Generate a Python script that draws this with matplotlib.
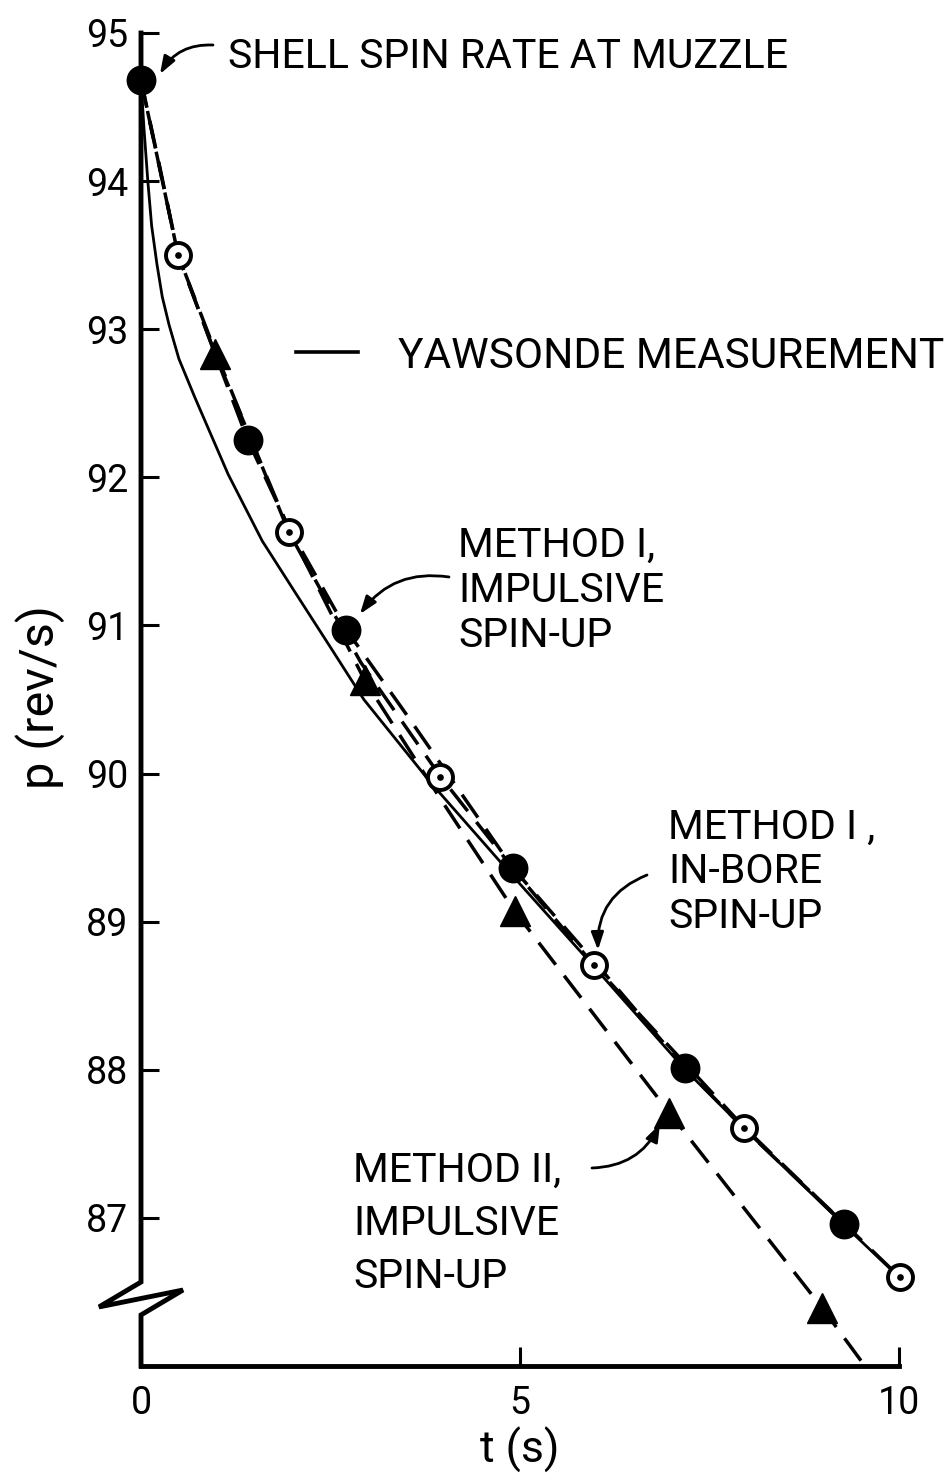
import matplotlib
matplotlib.use("Agg")
import matplotlib.pyplot as plt
from matplotlib.lines import Line2D

plt.rcParams['font.family'] = ['Roboto', 'DejaVu Sans']

# ---------------- data ----------------
# Yawsonde measurement (solid curve)
t_yaw = [0.0, 0.04, 0.09, 0.14, 0.21, 0.28, 0.37, 0.50, 0.71, 1.15, 1.60, 2.05,
         2.49, 2.94, 3.82, 4.85, 5.97, 7.18, 7.96, 9.28, 10.0]
p_yaw = [94.68, 94.35, 94.00, 93.70, 93.44, 93.22, 93.03, 92.80, 92.54, 92.02,
         91.57, 91.21, 90.86, 90.50, 89.94, 89.34, 88.70, 88.00, 87.60, 86.95, 86.60]

# Method I, impulsive spin-up (filled circles, dashed curve)
t_m1i = [0.0, 1.41, 2.71, 4.91, 7.18, 9.28]
p_m1i = [94.68, 92.25, 90.97, 89.36, 88.01, 86.96]
t_m1i_curve = [0.0, 0.25, 0.49, 0.98, 1.41, 1.95, 2.71, 3.50, 4.91, 6.00, 7.18, 8.00, 9.28]
p_m1i_curve = [94.68, 94.09, 93.50, 92.83, 92.25, 91.66, 90.97, 90.40, 89.36, 88.72,
               88.01, 87.58, 86.96]

# Method I, in-bore spin-up (open circles, dashed curve)
t_m1b = [0.49, 1.95, 3.95, 5.97, 7.96, 10.01]
p_m1b = [93.50, 91.63, 89.98, 88.71, 87.61, 86.60]
t_m1b_curve = [0.0, 0.49, 0.98, 1.95, 2.90, 3.95, 5.00, 5.97, 7.96, 10.01]
p_m1b_curve = [94.68, 93.50, 92.85, 91.63, 90.75, 89.98, 89.30, 88.71, 87.61, 86.60]

# Method II, impulsive spin-up (triangles, dashed curve)
t_m2 = [0.98, 2.95, 4.93, 6.97, 8.99]
p_m2 = [92.83, 90.63, 89.07, 87.71, 86.39]
t_m2_curve = [0.0, 0.49, 0.98, 1.95, 2.95, 3.95, 4.93, 6.97, 8.99, 9.55]
p_m2_curve = [94.68, 93.50, 92.83, 91.65, 90.63, 89.83, 89.07, 87.71, 86.39, 86.00]

x_ticks = [0, 5, 10]
x_ticklabels = ["0", "5", "10"]
y_ticks = [87, 88, 89, 90, 91, 92, 93, 94, 95]
y_ticklabels = ["87", "88", "89", "90", "91", "92", "93", "94", "95"]

# ---------------- figure ----------------
W, H = 946, 1476
fig = plt.figure(figsize=(W / 100, H / 100), dpi=100)
fig.patch.set_facecolor("white")
ax = fig.add_axes([141 / W, 1 - 1366 / H, 758 / W, 1333 / H])
ax.set_xlim(0, 10)
ax.set_ylim(86, 95)


def fx(px):
    return px / W


def fy(py):
    return 1 - py / H


dash = (0, (8, 4))
ax.plot(t_yaw, p_yaw, color="black", lw=2.0, zorder=2, clip_on=False)
ax.plot(t_m1i_curve, p_m1i_curve, color="black", lw=2.5, ls=dash, zorder=2, clip_on=False)
ax.plot(t_m1b_curve, p_m1b_curve, color="black", lw=2.5, ls=(3, (8, 4)), zorder=2, clip_on=False)
ax.plot(t_m2_curve, p_m2_curve, color="black", lw=2.5, ls=dash, zorder=2)

ax.plot(t_m1i, p_m1i, "o", ms=20.5, color="black", zorder=5, clip_on=False)
ax.plot(t_m1b, p_m1b, "o", ms=18, mfc="white", mec="black", mew=2.8, zorder=5, clip_on=False)
ax.plot(t_m1b, p_m1b, "o", ms=3.8, color="black", zorder=6, clip_on=False)
ax.plot(t_m2, p_m2, "^", ms=21, color="black", zorder=5, clip_on=False)

# spines / axis with break
for s in ["top", "right", "left"]:
    ax.spines[s].set_visible(False)
ax.spines["bottom"].set_linewidth(3.5)
ax.add_line(Line2D([0, 0, -0.0554, 0.0554, 0, 0],
                   [1, 0.063, 0.0443, 0.057, 0.0383, 0],
                   transform=ax.transAxes, color="black", lw=3.5,
                   clip_on=False, solid_joinstyle="miter", zorder=4))

ax.set_xticks(x_ticks)
ax.set_xticklabels(x_ticklabels)
ax.set_yticks(y_ticks)
ax.set_yticklabels(y_ticklabels)
ax.tick_params(axis="x", direction="in", length=14, width=2.2, pad=14, labelsize=27)
ax.tick_params(axis="y", direction="in", length=13, width=2.2, pad=9, labelsize=27)

# axis labels
fig.text(fx(40), fy(697), "p (rev/s)", rotation=90, ha="center", va="center", fontsize=35)
fig.text(fx(520), fy(1450), "t (s)", ha="center", va="center", fontsize=32)

fs = 29.5
# annotations
fig.text(fx(228), fy(68), "SHELL SPIN RATE AT MUZZLE", ha="left", va="baseline", fontsize=fs)
fig.add_artist(Line2D([fx(296), fx(358)], [fy(352), fy(352)], color="black", lw=2.6))
fig.text(fx(398), fy(368), "YAWSONDE MEASUREMENT", ha="left", va="baseline", fontsize=30.5)
fig.text(fx(458), fy(647), "METHOD I,\nIMPULSIVE\nSPIN-UP", ha="left", va="baseline",
         fontsize=fs, linespacing=1.2)
fig.text(fx(668), fy(928), "METHOD I ,\nIN-BORE\nSPIN-UP", ha="left", va="baseline",
         fontsize=fs, linespacing=1.18)
fig.text(fx(353), fy(1288), "METHOD II,\nIMPULSIVE\nSPIN-UP", ha="left", va="baseline",
         fontsize=fs, linespacing=1.45)

arrows = [((213, 45), (160, 74), 0.3),
          ((449, 577), (360, 614), 0.3),
          ((647, 875), (598, 950), 0.35),
          ((592, 1168), (660, 1124), 0.3)]
for (x0, y0), (x1, y1), rad in arrows:
    fig.add_artist(matplotlib.patches.FancyArrowPatch(
        (fx(x0), fy(y0)), (fx(x1), fy(y1)), transform=fig.transFigure,
        arrowstyle="-|>,head_length=0.7,head_width=0.25", mutation_scale=15,
        connectionstyle=f"arc3,rad={rad}", color="black", lw=2.0,
        shrinkA=0, shrinkB=0, zorder=7))

fig.savefig("out.png", dpi=100, facecolor="white")
